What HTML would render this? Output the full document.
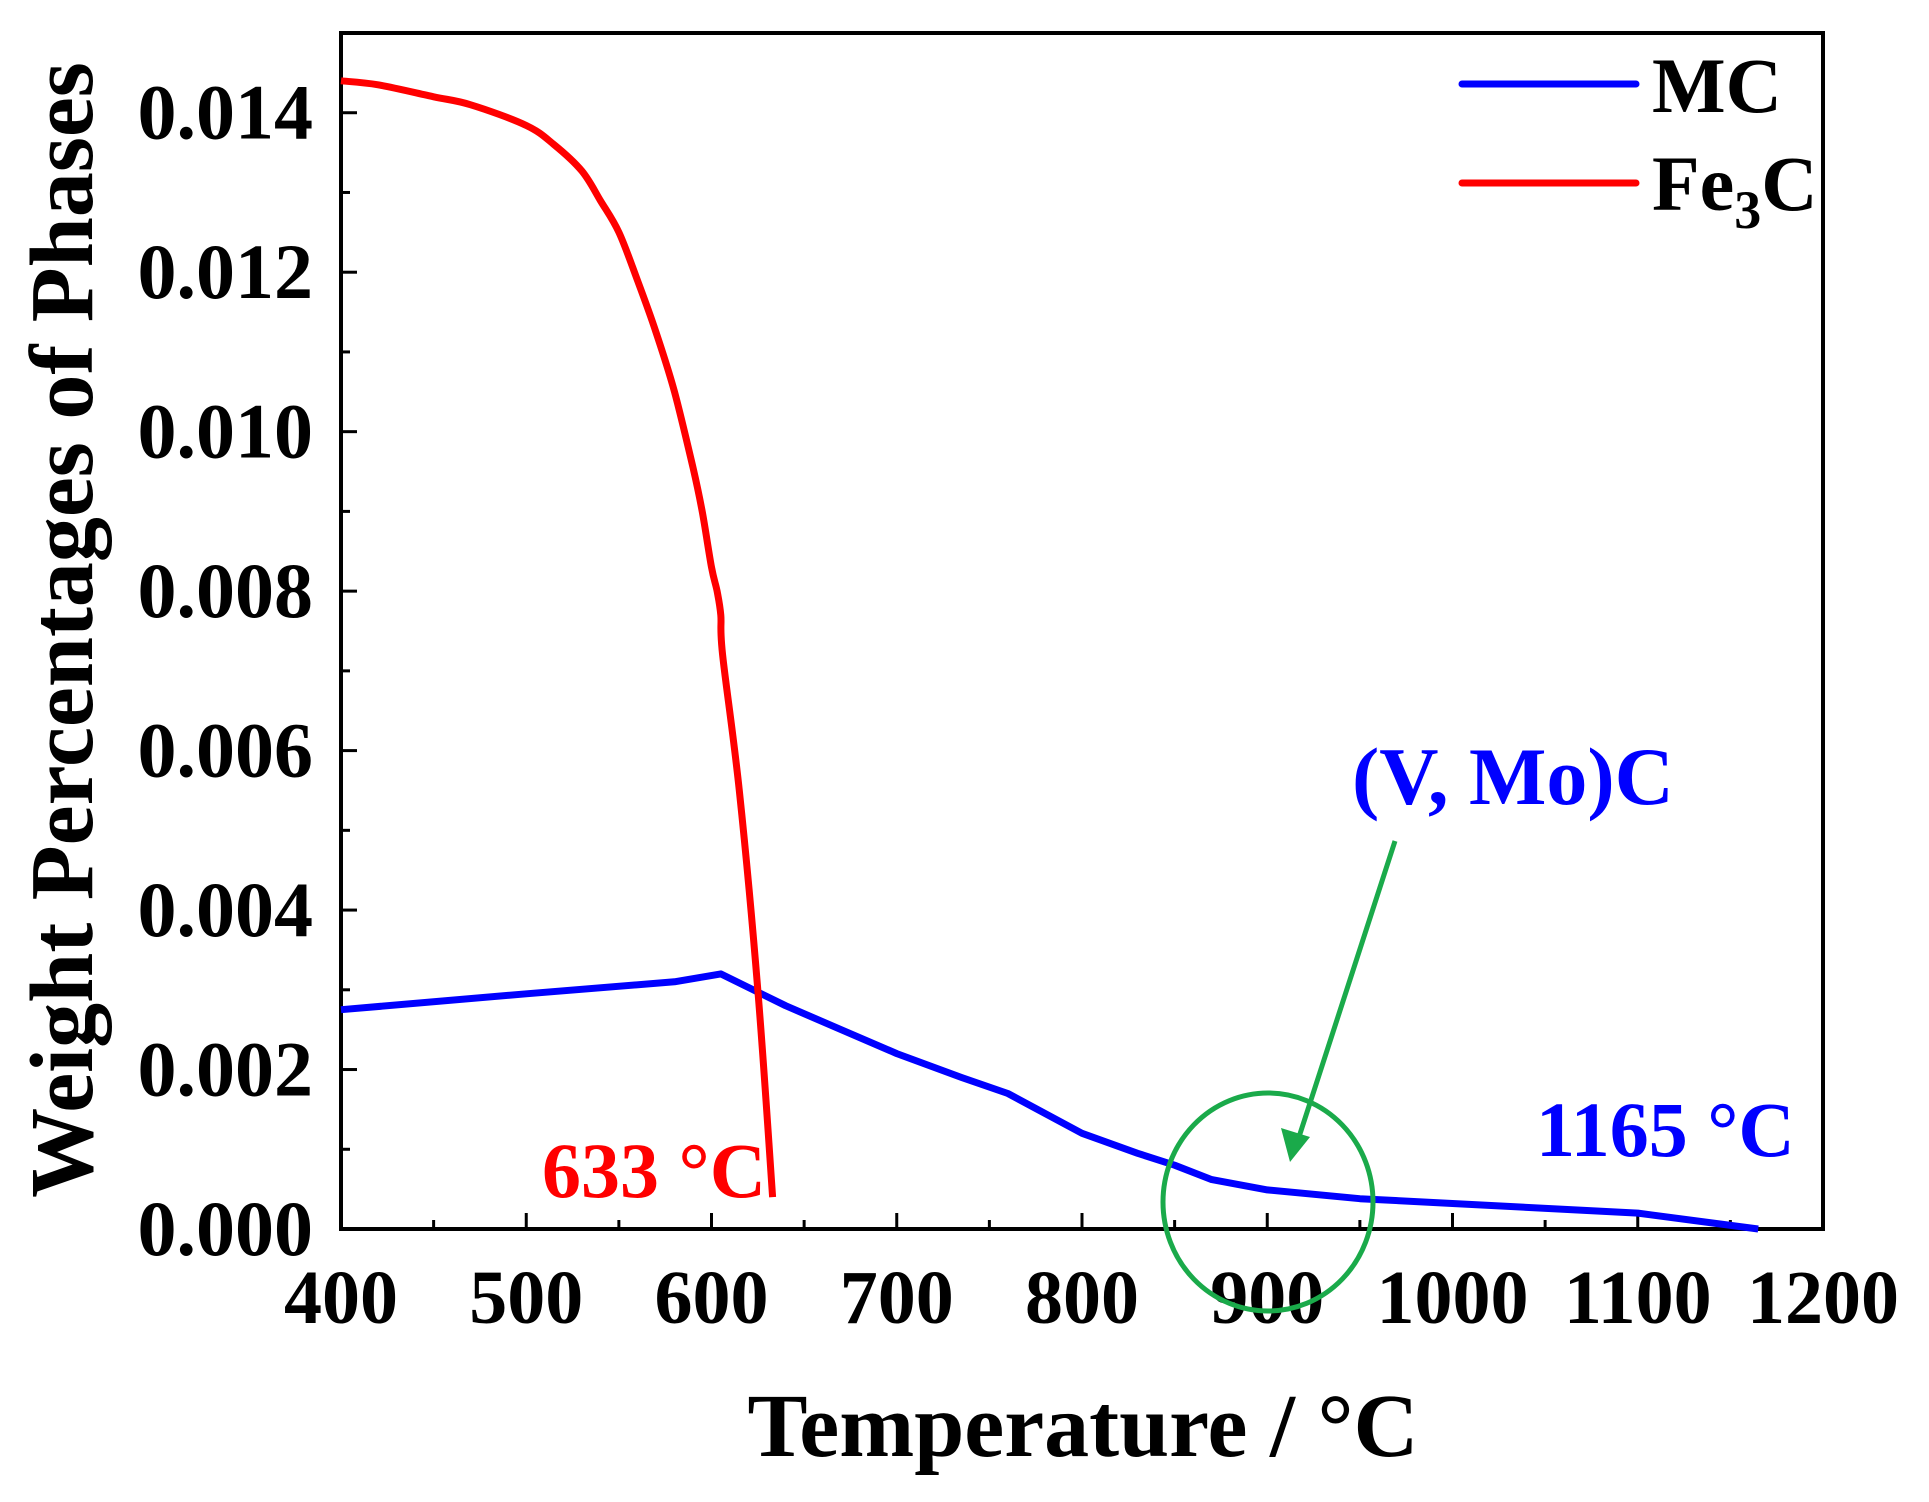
<!DOCTYPE html>
<html><head><meta charset="utf-8"><style>
html,body{margin:0;padding:0;background:#fff}
svg text{font-family:"Liberation Serif",serif;font-weight:bold}
</style></head><body>
<svg id="chart" width="1929" height="1497" viewBox="0 0 1929 1497" xmlns="http://www.w3.org/2000/svg">
<g id="plot"></g>
</svg>
<script>
const xTicks=[400,500,600,700,800,900,1000,1100,1200];
const yTicks=[0,0.002,0.004,0.006,0.008,0.010,0.012,0.014];
const yTickLabels=["0.000","0.002","0.004","0.006","0.008","0.010","0.012","0.014"];
const fe3cT=[400,420,450,470,500,515,530,540,550,560,570,580,590,595,600,603,605,606,615,625,633];
const fe3cW=[0.0144,0.01435,0.0142,0.0141,0.01384,0.0136,0.01327,0.0129,0.0125,0.0119,0.01125,0.0105,0.00955,0.0090,0.0083,0.0080,0.0077,0.0072,0.0055,0.003,0.0004];
const mcT=[400,500,580,605,640,670,700,735,760,800,830,850,870,900,950,1000,1100,1165];
const mcW=[0.00275,0.00295,0.0031,0.0032,0.0028,0.0025,0.0022,0.0019,0.0017,0.0012,0.00095,0.0008,0.00062,0.00049,0.00038,0.00032,0.0002,0];

const L=341,R=1823,T=33,B=1229;
const X=v=>L+(v-400)/800*(R-L);
const Y=v=>B-v/0.015*(B-T);
const NS="http://www.w3.org/2000/svg";
const g=document.getElementById('plot');
function mk(tag,attrs){const e=document.createElementNS(NS,tag);for(const k in attrs)e.setAttribute(k,attrs[k]);g.appendChild(e);return e;}

let fr=mk('rect',{x:L,y:T,width:R-L,height:B-T,fill:'none',stroke:'#000','stroke-width':4});



for(let v=400;v<=1200;v+=50){
  const major=(v%100===0);
  const t=mk('line',{x1:X(v),x2:X(v),y1:B,y2:B-(major?16:9),stroke:'#000','stroke-width':3});
  
  
}
xTicks.forEach(v=>{
  const t=mk('text',{x:X(v),y:1323,'font-size':76,'text-anchor':'middle',fill:'#000'});
  t.textContent=v;
  
  
});
for(let i=0;i<15;i++){
  const v=i*0.001;const major=(i%2===0);
  const t=mk('line',{x1:L,x2:L+(major?16:9),y1:Y(v),y2:Y(v),stroke:'#000','stroke-width':3});
  
  
}
yTicks.forEach((v,i)=>{
  const t=mk('text',{x:313,y:Y(v)+26,'font-size':78,'text-anchor':'end',fill:'#000'});
  t.textContent=yTickLabels[i];
  
  
});

function smooth(xs,ys){
  const p=xs.map((x,i)=>[X(x),Y(ys[i])]);
  let d='M'+p[0][0].toFixed(1)+','+p[0][1].toFixed(1);
  for(let i=0;i<p.length-1;i++){
    const p0=p[Math.max(0,i-1)],p1=p[i],p2=p[i+1],p3=p[Math.min(p.length-1,i+2)];
    const c1=[p1[0]+(p2[0]-p0[0])/6,p1[1]+(p2[1]-p0[1])/6];
    const c2=[p2[0]-(p3[0]-p1[0])/6,p2[1]-(p3[1]-p1[1])/6];
    d+=' C'+c1.map(n=>n.toFixed(1)).join(',')+' '+c2.map(n=>n.toFixed(1)).join(',')+' '+p2[0].toFixed(1)+','+p2[1].toFixed(1);
  }
  return d;
}
function linear(xs,ys){return xs.map((x,i)=>(i?'L':'M')+X(x).toFixed(1)+','+Y(ys[i]).toFixed(1)).join(' ');}
let mc=mk('path',{d:linear(mcT,mcW),fill:'none',stroke:'#0000ff','stroke-width':7,'stroke-linejoin':'round'});


let fe=mk('path',{d:smooth(fe3cT,fe3cW),fill:'none',stroke:'#ff0000','stroke-width':7,'stroke-linejoin':'round'});



let l1=mk('line',{x1:1462,x2:1636,y1:84,y2:84,stroke:'#0000ff','stroke-width':7,'stroke-linecap':'round'});


let l2=mk('line',{x1:1462,x2:1636,y1:183,y2:183,stroke:'#ff0000','stroke-width':7,'stroke-linecap':'round'});


let t1=mk('text',{x:1652,y:112,'font-size':78,fill:'#000'});t1.textContent='MC';


let t2=mk('text',{x:1652,y:210,'font-size':78,fill:'#000'});
t2.innerHTML='Fe<tspan font-size="54" dy="18">3</tspan><tspan dy="-18">C</tspan>';



let a1=mk('text',{x:542,y:1197,'font-size':78,fill:'#ff0000'});a1.textContent='633 °C';


let a2=mk('text',{x:1536,y:1156,'font-size':78,fill:'#0000ff'});a2.textContent='1165 °C';


let a3=mk('text',{x:1352,y:804,'font-size':82,fill:'#0000ff'});a3.textContent='(V, Mo)C';


let ar=mk('line',{x1:1395,y1:841,x2:1298,y2:1140,stroke:'#1aaa4a','stroke-width':5});


let ah=mk('polygon',{points:'1290,1162 1281,1128 1310,1137',fill:'#1aaa4a'});


let el=mk('ellipse',{cx:1268,cy:1202,rx:105,ry:109,fill:'none',stroke:'#1aaa4a','stroke-width':5});



let xt=mk('text',{x:1083,y:1456,'font-size':90,'text-anchor':'middle',fill:'#000'});xt.textContent='Temperature / °C';


let yt=mk('text',{x:0,y:0,'font-size':90,'text-anchor':'middle',fill:'#000',transform:'translate(92,630) rotate(-90)'});yt.textContent='Weight Percentages of Phases';


</script>
</body></html>
